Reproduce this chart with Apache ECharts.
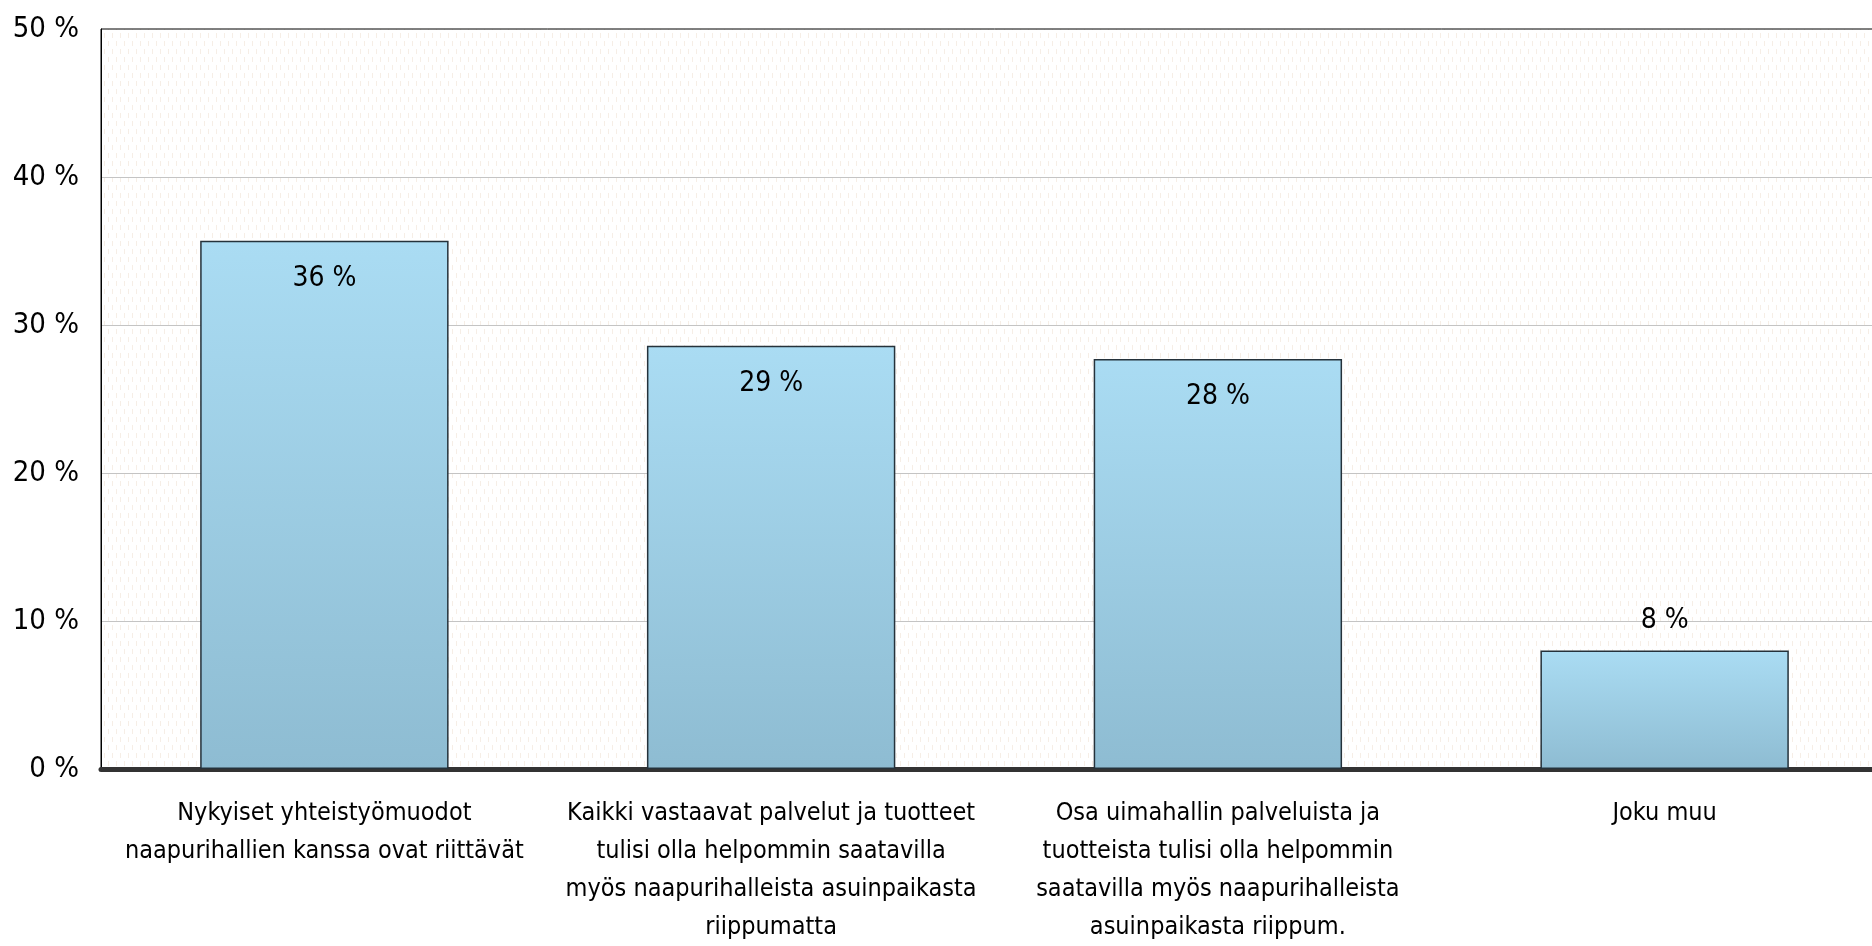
<!DOCTYPE html>
<html>
<head>
<meta charset="utf-8">
<script src="https://cdn.jsdelivr.net/npm/echarts@6/dist/echarts.min.js"></script>
<style>
  html, body { margin: 0; padding: 0; background: #fff; overflow: hidden; }
  /* plot area runs slightly past the right edge of the window */
  #chart { width: 1888px; height: 946px; }
</style>
</head>
<body>
<div id="chart"></div>
<script>
// Answer options (category axis)
const categories = [
  'Nykyiset yhteistyömuodot\nnaapurihallien kanssa ovat riittävät',
  'Kaikki vastaavat palvelut ja tuotteet\ntulisi olla helpommin saatavilla\nmyös naapurihalleista asuinpaikasta\nriippumatta',
  'Osa uimahallin palveluista ja\ntuotteista tulisi olla helpommin\nsaatavilla myös naapurihalleista\nasuinpaikasta riippum.',
  'Joku muu'
];
// Share of respondents, percent
const shares = [35.7, 28.6, 27.7, 8.0];
// Value axis ticks
const yTicks = [0, 10, 20, 30, 40, 50];

const FONT = '"Liberation Sans Narrow", "DejaVu Sans Condensed", "Liberation Sans", sans-serif';

// Faint dotted fill for the plot area
function makePattern() {
  const c = document.createElement('canvas');
  c.width = 8; c.height = 16;
  const g = c.getContext('2d');
  g.fillStyle = '#ffffff';
  g.fillRect(0, 0, 8, 16);
  g.fillStyle = '#f6eee6';
  g.fillRect(0, 1, 1, 5);
  g.fillRect(4, 9, 1, 5);
  return c;
}

const chart = echarts.init(document.getElementById('chart'), null, { renderer: 'canvas' });

const barGradient = new echarts.graphic.LinearGradient(0, 0, 0, 1, [
  { offset: 0, color: '#aadcf3' },
  { offset: 1, color: '#8ebcd2' }
]);

chart.setOption({
  animation: false,
  backgroundColor: '#ffffff',
  grid: {
    left: 101,
    right: 0,
    top: 29,
    bottom: 176,
    show: true,
    backgroundColor: { image: makePattern(), repeat: 'repeat' },
    borderColor: '#000000',
    borderWidth: 1
  },
  xAxis: {
    type: 'category',
    data: categories,
    axisTick: { show: false },
    axisLine: { show: true, lineStyle: { color: '#333333', width: 5 } },
    axisLabel: {
      interval: 0,
      margin: 25,
      color: '#000000',
      fontFamily: FONT,
      fontSize: 25,
      lineHeight: 38,
      align: 'center',
      verticalAlign: 'top'
    }
  },
  yAxis: {
    type: 'value',
    min: yTicks[0],
    max: yTicks[yTicks.length - 1],
    interval: 10,
    axisLine: { show: true, lineStyle: { color: '#000000', width: 1 } },
    axisTick: { show: false },
    splitLine: {
      show: true,
      showMinLine: false,
      showMaxLine: false,
      lineStyle: { color: '#c4c4c4', width: 1 }
    },
    axisLabel: {
      margin: 22,
      color: '#000000',
      fontFamily: FONT,
      fontSize: 29,
      formatter: v => v + ' %'
    }
  },
  series: [{
    type: 'bar',
    barWidth: '55.6%',
    data: shares.map(v => ({
      value: v,
      label: v < 15
        ? { position: 'top', distance: 16 }
        : { position: 'insideTop', distance: 24 }
    })),
    itemStyle: {
      color: barGradient,
      borderColor: '#25323b',
      borderWidth: 1.5
    },
    label: {
      show: true,
      color: '#000000',
      fontFamily: FONT,
      fontSize: 28,
      formatter: p => Math.round(p.value) + ' %'
    }
  }]
});
</script>
</body>
</html>
